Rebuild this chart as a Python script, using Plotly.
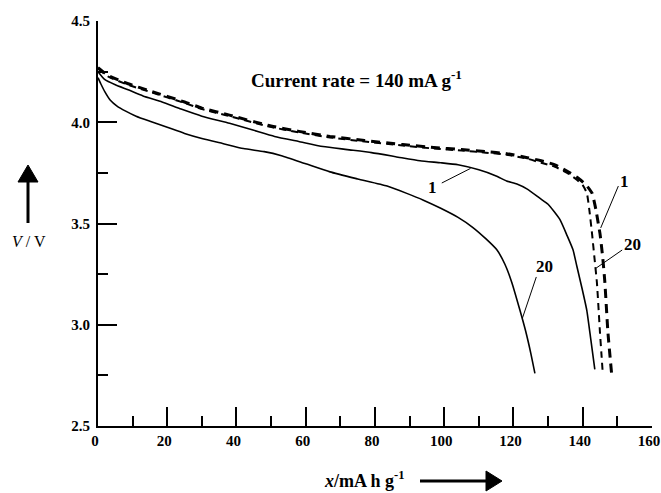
import plotly.graph_objects as go

# ---------------- data ----------------
solid_c1_x = [0, 2, 5, 8.7, 13, 18.5, 24, 30, 38, 45, 51, 58, 65, 72, 79, 86, 93, 99, 104,
              110, 115, 118, 121, 124, 127.6, 130, 133.4, 135.5, 137.2, 138.3, 139.8, 141.2,
              142.4, 143.5]
solid_c1_v = [4.25, 4.21, 4.185, 4.16, 4.13, 4.10, 4.065, 4.03, 3.995, 3.96, 3.93, 3.905, 3.88,
              3.865, 3.85, 3.83, 3.81, 3.80, 3.79, 3.765, 3.735, 3.71, 3.695, 3.67, 3.625, 3.595,
              3.52, 3.44, 3.37, 3.29, 3.18, 3.07, 2.92, 2.78]

solid_c20_x = [0, 0.8, 2, 3.5, 5.5, 8, 11, 15, 20, 25, 30, 36, 42, 48, 53, 60, 67, 75, 83.5, 89,
               94, 99, 104, 108.3, 112, 115.2, 117.5, 119.5, 121.9, 123.5, 125, 126.2]
solid_c20_v = [4.22, 4.19, 4.15, 4.11, 4.08, 4.055, 4.03, 4.005, 3.975, 3.945, 3.92, 3.895, 3.87,
               3.855, 3.835, 3.795, 3.755, 3.72, 3.685, 3.65, 3.615, 3.575, 3.53, 3.48, 3.425,
               3.37, 3.3, 3.21, 3.07, 2.97, 2.86, 2.76]

dashed_c1_x = [0, 3, 8.7, 15, 25, 30, 38, 49, 58, 67, 77, 88, 97, 105, 112, 118, 124, 128, 132,
               136.3, 139, 141, 142.7, 143.8, 144.5, 145, 145.8, 146.4, 147.3, 148.4]
dashed_c1_v = [4.27, 4.23, 4.19, 4.155, 4.10, 4.07, 4.035, 3.985, 3.955, 3.93, 3.91, 3.89, 3.875,
               3.865, 3.855, 3.845, 3.825, 3.81, 3.79, 3.75, 3.72, 3.69, 3.65, 3.57, 3.5, 3.45,
               3.33, 3.21, 2.96, 2.75]

dashed_c20_x = [0, 3, 8.7, 15, 25, 30, 38, 49, 58, 67, 77, 88, 97, 105, 112, 118, 124, 128, 132,
                135.5, 138, 140, 141.2, 141.9, 142.7, 143.4, 144.1, 145, 145.4, 145.8]
dashed_c20_v = [4.265, 4.225, 4.185, 4.15, 4.095, 4.065, 4.03, 3.98, 3.95, 3.925, 3.905, 3.885,
                3.87, 3.86, 3.85, 3.84, 3.82, 3.80, 3.78, 3.75, 3.72, 3.69, 3.65, 3.57, 3.45,
                3.33, 3.21, 2.96, 2.86, 2.76]

x_ticks = [0, 20, 40, 60, 80, 100, 120, 140, 160]
y_ticks = [2.5, 3.0, 3.5, 4.0, 4.5]

title_text = "Current rate = 140 mA g<sup>-1</sup>"
x_title = "<i>x</i>/mA h g<sup>-1</sup>"
y_title = "<i>V</i> / V"

# ---------------- figure ----------------
W, H = 661, 493
L, T = 98, 21
R = W - 652
B = H - 426
PW, PH = W - L - R, H - T - B


def px(xp):
    """window x pixel -> paper fraction"""
    return (xp - L) / PW


def py(yp):
    """window y pixel -> paper fraction"""
    return (H - B - yp) / PH


SERIF = "Liberation Serif, Times New Roman, serif"

fig = go.Figure()
line_shape = dict(shape="spline", smoothing=0.5)
fig.add_trace(go.Scatter(x=solid_c1_x, y=solid_c1_v, mode="lines",
                         line=dict(color="black", width=1.6, **line_shape), hoverinfo="skip"))
fig.add_trace(go.Scatter(x=solid_c20_x, y=solid_c20_v, mode="lines",
                         line=dict(color="black", width=1.6, **line_shape), hoverinfo="skip"))
fig.add_trace(go.Scatter(x=dashed_c20_x, y=dashed_c20_v, mode="lines",
                         line=dict(color="black", width=2, dash="7px,5px", **line_shape),
                         hoverinfo="skip"))
fig.add_trace(go.Scatter(x=dashed_c1_x, y=dashed_c1_v, mode="lines",
                         line=dict(color="black", width=3, dash="9px,6px", **line_shape),
                         hoverinfo="skip"))

axis_common = dict(showgrid=False, zeroline=False, showline=True, linecolor="black",
                   linewidth=2, ticks="inside", tickcolor="black", tickwidth=2, ticklen=19,
                   ticklabeloverflow="allow",
                   tickfont=dict(family=SERIF, size=15, color="black", weight="bold"))

fig.update_xaxes(range=[0, 160.02], tickvals=x_ticks, ticktext=[str(v) for v in x_ticks],
                 ticklabelshift=-3,
                 minor=dict(ticks="inside", ticklen=10, tickwidth=2, tickcolor="black",
                            tickvals=[10, 30, 50, 70, 90, 110, 130, 150]),
                 **axis_common)
fig.update_yaxes(range=[2.5, 4.5], tickvals=y_ticks, ticktext=[f"{v:.1f}" for v in y_ticks],
                 minor=dict(ticks="inside", ticklen=10, tickwidth=2, tickcolor="black",
                            tickvals=[2.75, 3.25, 3.75, 4.25]),
                 ticklabelstandoff=3, **axis_common)

annotations = [
    dict(text=f"<b>{title_text}</b>", x=px(356), y=py(79), xref="paper", yref="paper",
         xanchor="center", yanchor="middle", showarrow=False,
         font=dict(family=SERIF, size=19, color="black")),
    dict(text=f"<b>{x_title}</b>", x=px(322), y=py(479), xref="paper", yref="paper",
         xanchor="left", yanchor="middle", showarrow=False,
         font=dict(family=SERIF, size=18, color="black")),
    dict(text=y_title, x=px(29), y=py(241), xref="paper", yref="paper",
         xanchor="center", yanchor="middle", showarrow=False,
         font=dict(family=SERIF, size=16, color="black")),
    # curve labels
    dict(text="<b>1</b>", x=96.6, y=3.68, showarrow=False, xanchor="center",
         font=dict(family=SERIF, size=17, color="black")),
    dict(text="<b>20</b>", x=129.1, y=3.29, showarrow=False, xanchor="center",
         font=dict(family=SERIF, size=17, color="black")),
    dict(text="<b>1</b>", x=152.2, y=3.705, showarrow=False, xanchor="center",
         font=dict(family=SERIF, size=17, color="black")),
    dict(text="<b>20</b>", x=154.4, y=3.394, showarrow=False, xanchor="center",
         font=dict(family=SERIF, size=17, color="black")),
]

shapes = [
    # leader lines (data coords)
    dict(type="line", x0=99.3, y0=3.70, x1=107.6, y1=3.772, xref="x", yref="y",
         line=dict(color="black", width=1)),
    dict(type="line", x0=126.6, y0=3.236, x1=122.6, y1=3.033, xref="x", yref="y",
         line=dict(color="black", width=1)),
    dict(type="line", x0=150.3, y0=3.685, x1=145.2, y1=3.478, xref="x", yref="y",
         line=dict(color="black", width=1)),
    dict(type="line", x0=151.4, y0=3.369, x1=143.9, y1=3.28, xref="x", yref="y",
         line=dict(color="black", width=1)),
    # y-axis label arrow
    dict(type="line", x0=px(28), y0=py(223), x1=px(28), y1=py(178), xref="paper", yref="paper",
         line=dict(color="black", width=3)),
    dict(type="path", xref="paper", yref="paper",
         path=f"M {px(18)} {py(182)} L {px(38)} {py(182)} L {px(28)} {py(165)} Z",
         fillcolor="black", line=dict(color="black", width=1)),
    # x-axis label arrow
    dict(type="line", x0=px(420), y0=py(481), x1=px(490), y1=py(481), xref="paper", yref="paper",
         line=dict(color="black", width=3)),
    dict(type="path", xref="paper", yref="paper",
         path=f"M {px(486)} {py(471)} L {px(486)} {py(491)} L {px(502)} {py(481)} Z",
         fillcolor="black", line=dict(color="black", width=1)),
]

fig.update_layout(width=W, height=H, margin=dict(l=L, r=R, t=T, b=B, autoexpand=False),
                  paper_bgcolor="white", plot_bgcolor="white", showlegend=False,
                  font=dict(family=SERIF, color="black"),
                  annotations=annotations, shapes=shapes)

fig.write_html("out.html", config={"displayModeBar": False},
               post_script="document.body.style.margin='0';"
                           "document.body.style.overflow='hidden';")
